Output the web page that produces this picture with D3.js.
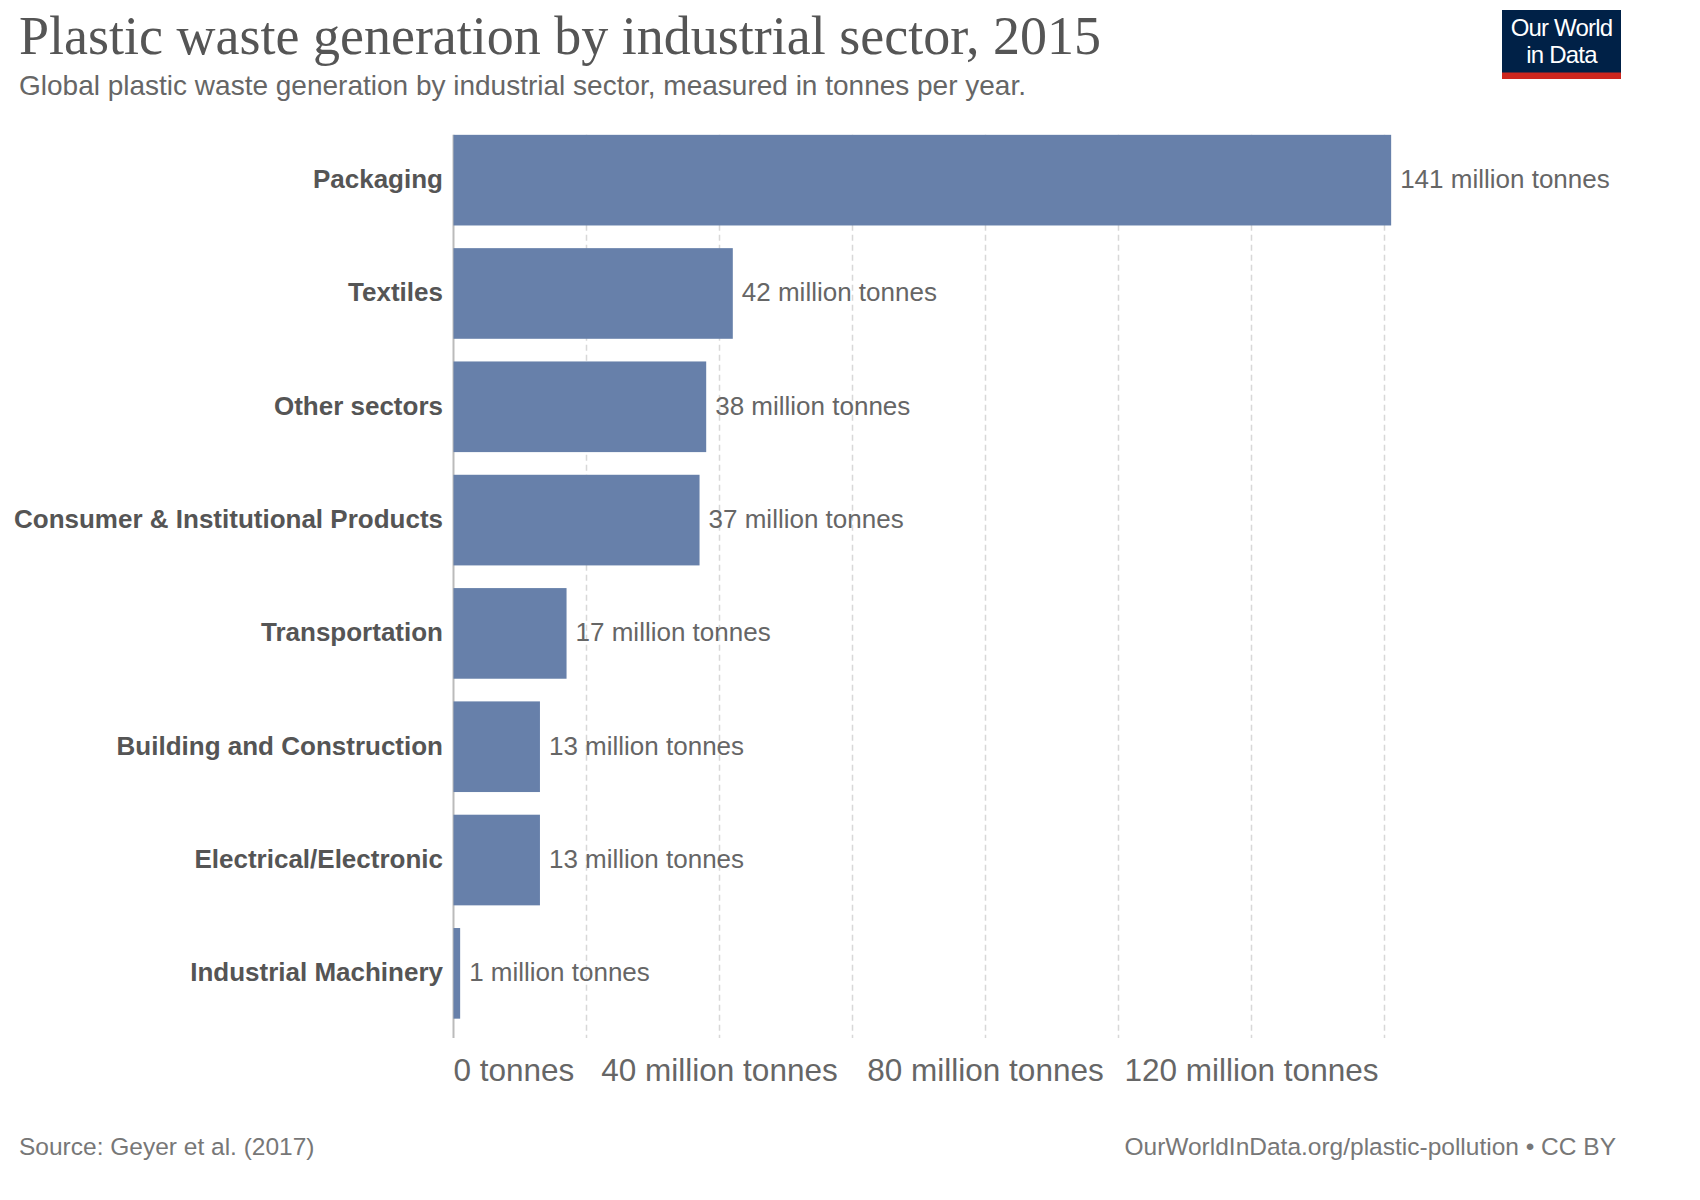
<!DOCTYPE html>
<html>
<head>
<meta charset="utf-8">
<script src="https://cdn.jsdelivr.net/npm/d3@7"></script>
<style>
  body { margin: 0; background: #fff; }
  svg { display: block; }
</style>
</head>
<body>
<svg id="chart" width="1700" height="1200"></svg>
<script>
const sectors = [
    'Packaging',
    'Textiles',
    'Other sectors',
    'Consumer & Institutional Products',
    'Transportation',
    'Building and Construction',
    'Electrical/Electronic',
    'Industrial Machinery'
];
const wasteMillionTonnes = [141, 42, 38, 37, 17, 13, 13, 1];
const gridValues = [0, 20, 40, 60, 80, 100, 120, 140];
const tickValues = [0, 40, 80, 120];
const tickLabels = ['0 tonnes', '40 million tonnes', '80 million tonnes', '120 million tonnes'];

const sans = '"Liberation Sans", Arial, sans-serif';
const serif = '"Liberation Serif", "Times New Roman", serif';

const svg = d3.select('#chart');

const x = d3.scaleLinear()
    .domain([0, 140])
    .range([453.5, 1384.5]);

const y = d3.scaleBand()
    .domain(sectors)
    .range([123.5, 1030])
    .paddingInner(0.2)
    .paddingOuter(0.1);

const gridTop = y(sectors[0]),
    gridBottom = 1038;

// title block
svg.append('text')
    .attr('x', 19)
    .attr('y', 54)
    .attr('font-family', serif)
    .attr('font-size', 54)
    .attr('fill', '#555')
    .text('Plastic waste generation by industrial sector, 2015');

svg.append('text')
    .attr('x', 19)
    .attr('y', 95)
    .attr('font-family', sans)
    .attr('font-size', 28)
    .attr('fill', '#666')
    .text('Global plastic waste generation by industrial sector, measured in tonnes per year.');

// logo
const logo = svg.append('g');
logo.append('rect')
    .attr('x', 1502).attr('y', 10)
    .attr('width', 119).attr('height', 69)
    .attr('fill', '#002147');
logo.append('rect')
    .attr('x', 1502).attr('y', 72.5)
    .attr('width', 119).attr('height', 6.5)
    .attr('fill', '#ce261e');
logo.selectAll('text.logo')
    .data(['Our World', 'in Data'])
    .join('text')
    .attr('class', 'logo')
    .attr('x', 1561.5)
    .attr('y', (d, i) => 36 + i * 27)
    .attr('text-anchor', 'middle')
    .attr('font-family', sans)
    .attr('font-size', 24)
    .attr('letter-spacing', -0.8)
    .attr('fill', '#fff')
    .text(d => d);

// grid lines
svg.append('g')
    .selectAll('line')
    .data(gridValues.filter(d => d > 0))
    .join('line')
    .attr('x1', d => x(d)).attr('x2', d => x(d))
    .attr('y1', gridTop).attr('y2', gridBottom)
    .attr('stroke', '#d8d8d8')
    .attr('stroke-width', 1.5)
    .attr('stroke-dasharray', '6 4');

svg.append('line')
    .attr('x1', x(0)).attr('x2', x(0))
    .attr('y1', gridTop).attr('y2', gridBottom)
    .attr('stroke', '#bbb')
    .attr('stroke-width', 2);

// bars
const rows = sectors.map((s, i) => ({ sector: s, value: wasteMillionTonnes[i] }));

svg.append('g')
    .selectAll('rect')
    .data(rows)
    .join('rect')
    .attr('x', x(0))
    .attr('y', d => y(d.sector))
    .attr('width', d => x(d.value) - x(0))
    .attr('height', y.bandwidth())
    .attr('fill', '#6780aa');

// category labels
svg.append('g')
    .selectAll('text')
    .data(rows)
    .join('text')
    .attr('x', 443)
    .attr('y', d => y(d.sector) + y.bandwidth() / 2)
    .attr('dy', '0.3em')
    .attr('text-anchor', 'end')
    .attr('font-family', sans)
    .attr('font-size', 26)
    .attr('font-weight', 'bold')
    .attr('fill', '#555')
    .text(d => d.sector);

// value labels
svg.append('g')
    .selectAll('text')
    .data(rows)
    .join('text')
    .attr('x', d => x(d.value) + 9)
    .attr('y', d => y(d.sector) + y.bandwidth() / 2)
    .attr('dy', '0.3em')
    .attr('font-family', sans)
    .attr('font-size', 26)
    .attr('fill', '#666')
    .text(d => d.value + ' million tonnes');

// x axis labels
svg.append('g')
    .selectAll('text')
    .data(tickValues)
    .join('text')
    .attr('x', d => x(d))
    .attr('y', 1081)
    .attr('text-anchor', d => d == 0 ? 'start' : 'middle')
    .attr('font-family', sans)
    .attr('font-size', 31.5)
    .attr('fill', '#666')
    .text((d, i) => tickLabels[i]);

// footer
svg.append('text')
    .attr('x', 19)
    .attr('y', 1155)
    .attr('font-family', sans)
    .attr('font-size', 24.5)
    .attr('fill', '#777')
    .text('Source: Geyer et al. (2017)');

svg.append('text')
    .attr('x', 1616)
    .attr('y', 1155)
    .attr('text-anchor', 'end')
    .attr('font-family', sans)
    .attr('font-size', 24.5)
    .attr('fill', '#777')
    .text('OurWorldInData.org/plastic-pollution • CC BY');
</script>
</body>
</html>
